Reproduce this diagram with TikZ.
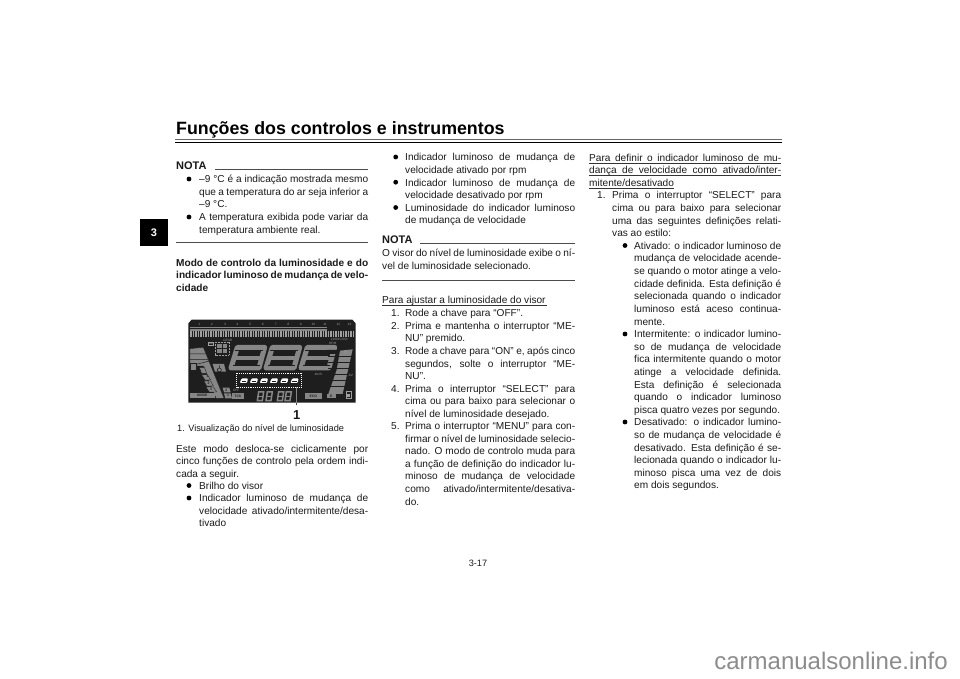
\documentclass[tikz,border=0pt]{standalone}
\usepackage{fontspec}
\setmainfont{Liberation Sans}
\usetikzlibrary{calc}

\definecolor{lcdback}{HTML}{1E1E1E}
\definecolor{lcdseg}{HTML}{868686}
\definecolor{lcdtick}{HTML}{A0A0A0}
\definecolor{inktext}{HTML}{1A1A1A}

\tolerance=9999
\hbadness=10000
\hfuzz=20pt

\tikzset{
	bodytext/.style={anchor=base west, inner sep=0pt, align=justify, text=inktext, font=\fontsize{10.1}{12.62}\selectfont},
	boldtext/.style={bodytext, font=\fontsize{10.1}{12.7}\selectfont\bfseries},
	notatext/.style={anchor=base west, inner sep=0pt, text=inktext, font=\fontsize{11}{13}\selectfont\bfseries},
	bulletdot/.style={circle, fill=black, inner sep=0pt, minimum size=4.8pt},
	notarule/.style={draw=black!70, line width=0.7pt},
	lcdtext/.style={inner sep=0pt, text=lcdtick, font=\fontsize{3.2}{3.2}\selectfont\itshape},
	lcdlabel/.style={inner sep=0pt, text=lcdback, font=\fontsize{3.4}{3.4}\selectfont\bfseries},
	lcdcell/.style={fill=lcdseg, draw=lcdback, line width=0.35pt},
}

\begin{document}
\begin{tikzpicture}[x=1pt, y=-1pt]
	\useasboundingbox[fill=white] (0,0) rectangle (960,679);

	% page head
	\node[anchor=base west, inner sep=0pt, font=\fontsize{17.8}{20}\selectfont\bfseries] (title) at (176,135) {Funções dos controlos e instrumentos};
	\draw[black!60, line width=0.6pt] (175,139.6) -- (781.5,139.6);
	\draw[black, line width=1.3pt] (175,142.4) -- (781.5,142.4);
	\node[fill=black, text=white, minimum width=28pt, minimum height=27pt, inner sep=0pt, font=\fontsize{11}{12}\selectfont\bfseries] (tab) at (154,232.5) {3};

	% first column
	\node[notatext] (nota1) at (176,170) {NOTA};
	\draw[notarule] (215,169) -- (368,169);
	\node[bulletdot] (b1) at (189,179) {};
	\node[bodytext, text width=169pt] (n1text) at (199,182.7) {–9 °C é a indicação mostrada mesmo\linebreak que a temperatura do ar seja inferior a\linebreak –9 °C.};
	\node[bulletdot] (b2) at (189,217) {};
	\node[bodytext, text width=169pt] (n2text) at (199,220.7) {A temperatura exibida pode variar da\linebreak temperatura ambiente real.};
	\draw[notarule] (176,242.7) -- (368,242.7);
	\node[boldtext, text width=192pt] (modo) at (176,266) {Modo de controlo da luminosidade e do\linebreak indicador luminoso de mudança de velo-\linebreak cidade};

	% instrument panel, in units of a third of a pixel
	\begin{scope}[shift={(160,290)}, x=0.3333pt, y=-0.3333pt]
		\fill[lcdback] (85,338) -- (85,100) -- (95,89) -- (577,89) -- (587,100) -- (587,338) -- cycle;
		% rpm scale
		\foreach \num/\nx in {1/118,2/155,3/195,4/232,5/270,6/308,7/347,8/385,9/422,10/460,11/495,12/535,13/568}
			\node[lcdtext] (rpm\num) at (\nx,103) {\num};
		\foreach \tx in {90,95,...,580}
			\draw[lcdtick, line width=0.75pt] (\tx,122) -- (\tx,141);
		\fill[lcdseg] (90,112) -- (500,112) -- (500,122) -- (90,122) -- cycle;
		\draw[lcdback, line width=0.35pt] (90,116) -- (500,116);
		\node[lcdtext] (rpmunit) at (538,149) {x1000 r/min};
		\node[lcdtext] (rpmrec) at (518,159) {RPM};
		% left gauge
		\fill[lcdcell] (90,176) -- (130,172) -- (192,325) -- (168,325) -- (130,228) -- (90,228) -- cycle;
		\draw[lcdback, line width=0.5pt] (90,192) -- (137,192) (90,208) -- (144,208) (90,228) -- (152,212);
		\fill[lcdcell] (118,232) -- (133,232) -- (140,250) -- (125,250) -- cycle;
		\fill[lcdcell] (125,254) -- (142,254) -- (152,270) -- (135,270) -- cycle;
		\fill[lcdcell] (132,273) -- (152,273) -- (160,288) -- (140,288) -- cycle;
		\fill[lcdcell] (138,291) -- (160,291) -- (170,306) -- (148,306) -- cycle;
		\node[lcdlabel] (lev1) at (143,260) {1};
		\node[lcdlabel] (lev2) at (146,280) {2};
		\node[lcdlabel] (lev3) at (153,298) {3};
		\fill[lcdseg] (90,310) -- (165,310) -- (165,325) -- (90,325) -- cycle;
		\node[lcdlabel] (mode) at (127,317.5) {MODE};
		\fill[lcdcell] (92,220) rectangle (110,242);
		% gear and fuel style icons
		\node[lcdtext, font=\fontsize{2.8}{3}\selectfont\bfseries, draw=lcdtick, line width=0.3pt, inner sep=0.6pt] (gsbox) at (152,160) {GS};
		\draw[lcdtick, line width=0.5pt, dash pattern=on 1pt off 0.5pt] (165,157) rectangle (207,195);
		\fill[lcdseg] (172,163) rectangle (200,188);
		\draw[lcdback, line width=0.6pt] (172,175) -- (200,175) (186,163) -- (186,188);
		\node[lcdtext] (gearlabel) at (203,152) {GEAR};
		\fill[lcdseg] (158,222) -- (192,222) -- (198,245) -- (165,245) -- cycle;
		\draw[lcdback, line width=0.6pt] (178,240) circle[radius=6] (178,226) -- (178,234);
		% speed digits
		\foreach \dx in {0,105,210}{
			\draw[lcdseg, line width=5pt, line join=round] (232+\dx,172) -- (314+\dx,172) -- (297+\dx,234) -- (213+\dx,234) -- cycle;
			\draw[lcdseg, line width=4.2pt] (221+\dx,203) -- (305+\dx,203);
			\draw[lcdback, line width=0.4pt] (226+\dx,181) -- (308+\dx,181) (220+\dx,225) -- (299+\dx,225);
		}
		\node[lcdtext] (kmh) at (475,252) {km/h};
		% right gauge
		\fill[lcdseg] (540,182) -- (578,178) -- (548,312) -- (505,312) -- (530,240) -- cycle;
		\foreach \gy in {198,216,234,252,270,288}
			\draw[lcdback, line width=0.6pt] (505,\gy) -- (580,\gy);
		\fill[lcdback] (500,180) -- (540,180) -- (536,192) -- (500,192) -- cycle;
		\node[lcdtext, font=\fontsize{3.4}{3.4}\selectfont\bfseries] (fmark) at (557,188) {F};
		\node[lcdtext] (halfmark) at (572,257) {1/2};
		\fill[lcdseg] (500,312) rectangle (528,325);
		\node[lcdlabel] (emark) at (514,318.5) {E};
		\draw[lcdtick, line width=0.6pt] (558,305) rectangle (574,325);
		\fill[lcdtick] (561,312) rectangle (571,322);
		% bottom row
		\node[lcdtext] (offmark) at (228,300) {OFF};
		\fill[lcdseg] (188,293) -- (208,293) -- (212,307) -- (192,307) -- cycle;
		\fill[lcdseg] (192,310) -- (212,310) -- (216,325) -- (196,325) -- cycle;
		\node[lcdlabel] (tc2) at (199,300) {2};
		\node[lcdlabel] (tc1) at (204,317.5) {1};
		\fill[lcdseg] (215,310) rectangle (252,326);
		\node[lcdlabel] (tcs) at (233.5,318) {TCS};
		\foreach \cx in {292,318,352,375}{
			\draw[lcdseg, line width=1.5pt] (\cx+4,306) -- (\cx+19,306) -- (\cx+15,332) -- (\cx,332) -- cycle;
			\draw[lcdseg, line width=1.3pt] (\cx+2,319) -- (\cx+17,319);
		}
		\fill[lcdseg] (435,310) rectangle (485,326);
		\node[lcdlabel] (eco) at (460,318) {ECO};
		% level display
		\fill[lcdback] (228,248) rectangle (425,292);
		\draw[white, line width=0.75pt, dash pattern=on 1pt off 0.9pt] (230,250) rectangle (425,291);
		\foreach \lx in {252,282,312,342,373,404}{
			\fill[white, rounded corners=1pt] (\lx-13,279) -- (\lx-7,265) -- (\lx+12,265) -- (\lx+9,279) -- cycle;
			\fill[lcdback] (\lx-7,272) rectangle (\lx+6,275);
		}
		\draw[black!75, line width=0.7pt] (410,292) -- (410,344);
		\draw[lcdseg, line width=0.6pt] (410,292) -- (410,338);
		\node[inner sep=0pt, font=\fontsize{13}{14}\selectfont\bfseries, text=inktext] (call) at (410,376) {1};
	\end{scope}
	\node[anchor=base west, inner sep=0pt, text=inktext, font=\fontsize{9.2}{10}\selectfont] (caption) at (177,431.7) {1. Visualização do nível de luminosidade};

	\node[bodytext, text width=192pt] (este) at (176,452.3) {Este modo desloca-se ciclicamente por\linebreak cinco funções de controlo pela ordem indi-\linebreak cada a seguir.};
	\node[bulletdot] (b3) at (189,485.5) {};
	\node[bodytext, text width=169pt] (brilho) at (199,489.3) {Brilho do visor};
	\node[bulletdot] (b4) at (189,498) {};
	\node[bodytext, text width=169pt] (vel) at (199,501.7) {Indicador luminoso de mudança de\linebreak velocidade ativado/intermitente/desa-\linebreak tivado};

	% second column
	\node[bulletdot] (b5) at (395.7,157) {};
	\node[bodytext, text width=170pt] (ativ) at (405,160.7) {Indicador luminoso de mudança de\linebreak velocidade ativado por rpm};
	\node[bulletdot] (b6) at (395.7,182.2) {};
	\node[bodytext, text width=170pt] (desat) at (405,186) {Indicador luminoso de mudança de\linebreak velocidade desativado por rpm};
	\node[bulletdot] (b7) at (395.7,207.5) {};
	\node[bodytext, text width=170pt] (lumin) at (405,211.3) {Luminosidade do indicador luminoso\linebreak de mudança de velocidade};
	\node[notatext] (nota2) at (382,243.5) {NOTA};
	\draw[notarule] (420,243) -- (575,243);
	\node[bodytext, text width=193pt] (visor) at (382,256.7) {O visor do nível de luminosidade exibe o ní-\linebreak vel de luminosidade selecionado.};
	\draw[notarule] (382,280.7) -- (575,280.7);
	\node[bodytext] (ajustar) at (382,303.3) {Para ajustar a luminosidade do visor};
	\draw[black!80, line width=0.5pt] (382,305) -- (547,305);
	\node[bodytext] (s1no) at (391,316.7) {1.};
	\node[bodytext, text width=170pt] (s1) at (405,316.7) {Rode a chave para “OFF”.};
	\node[bodytext] (s2no) at (391,329.3) {2.};
	\node[bodytext, text width=170pt] (s2) at (405,329.3) {Prima e mantenha o interruptor “ME-\linebreak NU” premido.};
	\node[bodytext] (s3no) at (391,354.5) {3.};
	\node[bodytext, text width=170pt] (s3) at (405,354.5) {Rode a chave para “ON” e, após cinco\linebreak segundos, solte o interruptor “ME-\linebreak NU”.};
	\node[bodytext] (s4no) at (391,392) {4.};
	\node[bodytext, text width=170pt] (s4) at (405,392) {Prima o interruptor “SELECT” para\linebreak cima ou para baixo para selecionar o\linebreak nível de luminosidade desejado.};
	\node[bodytext] (s5no) at (391,429.5) {5.};
	\node[bodytext, text width=170pt] (s5) at (405,429.5) {Prima o interruptor “MENU” para con-\linebreak firmar o nível de luminosidade selecio-\linebreak nado. O modo de controlo muda para\linebreak a função de definição do indicador lu-\linebreak minoso de mudança de velocidade\linebreak como ativado/intermitente/desativa-\linebreak do.};

	% third column
	\node[bodytext, text width=192pt] (definir) at (589,161) {Para definir o indicador luminoso de mu-\linebreak dança de velocidade como ativado/inter-\linebreak mitente/desativado};
	\draw[black!80, line width=0.5pt] (589,162.8) -- (781,162.8) (589,175.4) -- (781,175.4) (589,188) -- (674,188);
	\node[bodytext] (d1no) at (597,198.8) {1.};
	\node[bodytext, text width=169pt] (d1) at (612,198.8) {Prima o interruptor “SELECT” para\linebreak cima ou para baixo para selecionar\linebreak uma das seguintes definições relati-\linebreak vas ao estilo:};
	\node[bulletdot] (b8) at (625,245.5) {};
	\node[bodytext, text width=147pt] (ligado) at (634,249.3) {Ativado: o indicador luminoso de\linebreak mudança de velocidade acende-\linebreak se quando o motor atinge a velo-\linebreak cidade definida. Esta definição é\linebreak selecionada quando o indicador\linebreak luminoso está aceso continua-\linebreak mente.};
	\node[bulletdot] (b9) at (625,334) {};
	\node[bodytext, text width=147pt] (inter) at (634,337.7) {Intermitente: o indicador lumino-\linebreak so de mudança de velocidade\linebreak fica intermitente quando o motor\linebreak atinge a velocidade definida.\linebreak Esta definição é selecionada\linebreak quando o indicador luminoso\linebreak pisca quatro vezes por segundo.};
	\node[bulletdot] (b10) at (625,422) {};
	\node[bodytext, text width=147pt] (deslig) at (634,425.8) {Desativado: o indicador lumino-\linebreak so de mudança de velocidade é\linebreak desativado. Esta definição é se-\linebreak lecionada quando o indicador lu-\linebreak minoso pisca uma vez de dois\linebreak em dois segundos.};

	% page foot
	\node[anchor=base, inner sep=0pt, text=inktext, font=\fontsize{9.2}{10}\selectfont] (pageno) at (478,566) {3-17};
	\node[anchor=base east, inner sep=0pt, text=black!45, font=\fontsize{24}{26}\selectfont] (site) at (948,669) {carmanualsonline.info};
\end{tikzpicture}
\end{document}
